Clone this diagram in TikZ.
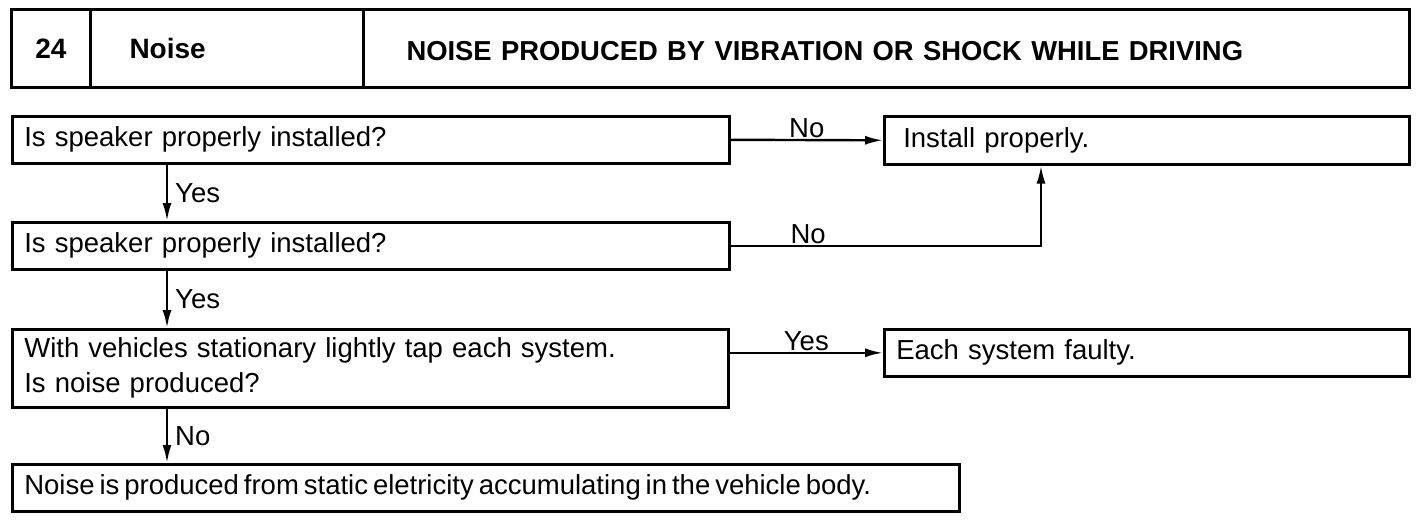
\documentclass[tikz,border=0pt]{standalone}
\usepackage{fontspec}
\setmainfont{Liberation Sans}
\usetikzlibrary{arrows.meta}
\begin{document}
\begin{tikzpicture}[x=1pt,y=-1pt,
  box/.style={draw, line width=2.6pt, anchor=north west, align=left, inner xsep=12pt, inner ysep=0pt,
    font=\fontsize{27.5}{35}\selectfont},
  hcell/.style={draw, line width=3pt, anchor=north west, inner ysep=0pt,
    font=\fontsize{28}{32}\selectfont\bfseries},
  arr/.style={line width=2.4pt, -{Latex[length=18pt,width=9pt]}},
  lbl/.style={font=\fontsize{27.5}{32}\selectfont, inner sep=1pt}
]
\useasboundingbox (0,0) rectangle (1424,520);
% header
\node[hcell, minimum width=79pt, minimum height=78pt, align=center] (h1) at (10,8) {24};
\node[hcell, minimum width=273pt, minimum height=78pt, text width=273pt, inner xsep=0pt, align=left] (h2) at (89,8) {\hspace*{39pt}Noise};
\node[hcell, minimum width=1046pt, minimum height=78pt, text width=1046pt, inner xsep=0pt, align=left] (h3) at (362,8) {\hspace*{43pt}\raisebox{-2pt}[19pt][0pt]{\fontsize{27.4}{32}\selectfont NOISE PRODUCED BY VIBRATION OR SHOCK WHILE DRIVING}};
% boxes
\node[box, minimum height=47pt, text width=693pt] (q1) at (11,115) {Is speaker properly installed?};
\node[box, minimum height=47pt, text width=693pt] (q2) at (11,221) {Is speaker properly installed?};
\node[box, minimum height=78pt, text width=692pt] (q3) at (11,328) {With vehicles stationary lightly tap each system.\\Is noise produced?};
\node[box, minimum height=47pt, text width=923pt] (q4) at (11,463) {\spaceskip=0.18em plus 0.1em Noise is produced from static eletricity accumulating in the vehicle body.};
\node[box, minimum height=48pt, text width=487pt, inner xsep=19pt] (inst) at (883,115) {Install properly.};
\node[box, minimum height=47pt, text width=501pt] (each) at (883,328) {Each system faulty.};
% connectors
\coordinate (vx) at (167,0);
\coordinate (rx) at (1041,0);
\draw[arr] (q1.east) -- node[lbl, above] {No} (inst.west);
\draw[arr] (q2.east) -- node[lbl, above, pos=0.25] {No} (q2.east -| rx) -- (inst.south -| rx);
\draw[arr] (q1.south -| vx) -- node[lbl, right, xshift=6pt] {Yes} (q2.north -| vx);
\draw[arr] (q2.south -| vx) -- node[lbl, right, xshift=6pt] {Yes} (q3.north -| vx);
\draw[arr] (q3.east |- each.west) -- node[lbl, above] {Yes} (each.west);
\draw[arr] (q3.south -| vx) -- node[lbl, right, xshift=6pt] {No} (q4.north -| vx);
\end{tikzpicture}
\end{document}
